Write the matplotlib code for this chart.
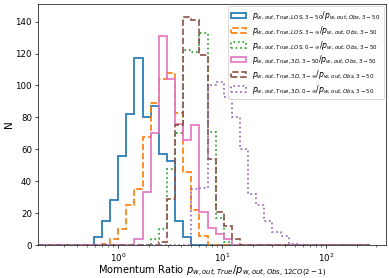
import numpy as np
import matplotlib
matplotlib.use('Agg')
import matplotlib.pyplot as plt

# common log-spaced bins (41 bins)
bin_edges = 10 ** np.linspace(-0.779, 2.423, 42)
centers = np.sqrt(bin_edges[:-1] * bin_edges[1:])


def counts(start, vals):
    c = np.zeros(len(centers))
    c[start:start + len(vals)] = vals
    return c


# counts per bin
los_3_50 = counts(7, [5, 15, 28, 56, 82, 117, 80, 87, 57, 53, 15, 5])
los_3_inf = counts(8, [1, 4, 10, 25, 35, 68, 89, 104, 108, 83, 46, 22, 6])
los_0_inf = counts(14, [4, 10, 48, 70, 122, 121, 133, 71, 17, 2])
d3_3_50 = counts(12, [4, 33, 70, 131, 104, 76, 66, 75, 21, 11, 7, 4])
d3_3_inf = counts(15, [2, 29, 75, 143, 141, 119, 54, 21, 12, 4])
d3_0_inf = counts(19, [35, 36, 100, 102, 93, 80, 60, 32, 25, 15, 8, 6, 1])

labels = [
    r'$p_{w, out, True, LOS, 3-50}/p_{w, out, Obs, 3-50}$',
    r'$p_{w, out, True, LOS, 3-\infty}/p_{w, out, Obs, 3-50}$',
    r'$p_{w, out, True, LOS, 0-\infty}/p_{w, out, Obs, 3-50}$',
    r'$p_{w, out, True, 3D, 3-50}/p_{w, out, Obs, 3-50}$',
    r'$p_{w, out, True, 3D, 3-\infty}/p_{w, out, Obs, 3-50}$',
    r'$p_{w, out, True, 3D, 0-\infty}/p_{w, out, Obs, 3-50}$',
]
series = [los_3_50, los_3_inf, los_0_inf, d3_3_50, d3_3_inf, d3_0_inf]
colors = ['tab:blue', 'tab:orange', 'tab:green', 'tab:pink', 'tab:brown', 'tab:purple']
styles = ['-', '--', ':', '-', '--', ':']

fig = plt.figure(figsize=(6.29, 4.484), dpi=62)
ax = fig.add_axes([0.0974, 0.118, 0.8923, 0.8676])

for vals, lab, col, ls in zip(series, labels, colors, styles):
    ax.hist(centers, bins=bin_edges, weights=vals, histtype='step',
            color=col, linestyle=ls, linewidth=2, label=lab)

ax.set_xscale('log')
ax.set_xlim(0.170, 378)
ax.set_ylim(0, 151)
ax.set_xlabel(r'Momentum Ratio $p_{w, out, True}/p_{w, out, Obs, 12CO(2-1)}$',
              fontsize=11.5, labelpad=-0.5)
ax.set_ylabel('N', fontsize=12, labelpad=2)
ax.tick_params(labelsize=10)
ax.legend(loc='upper right', fontsize=9, labelspacing=0.25, borderaxespad=0.3)

fig.savefig('out.png', dpi=62)
